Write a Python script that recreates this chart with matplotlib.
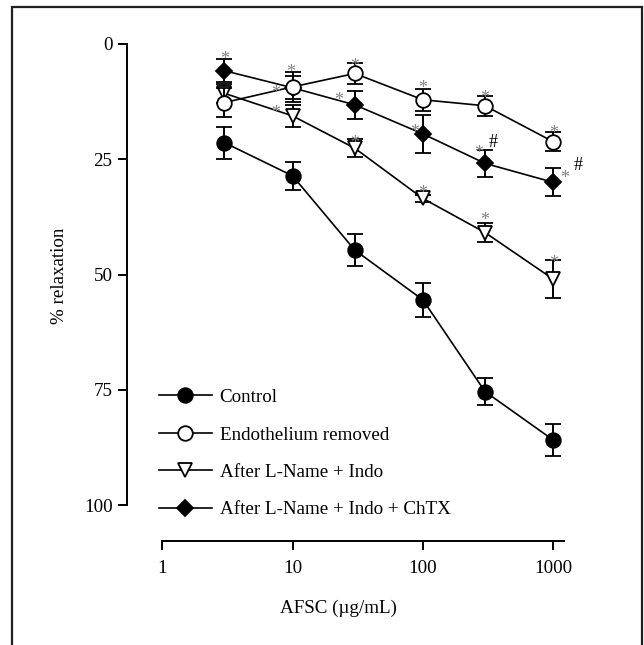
import matplotlib
matplotlib.use("Agg")
import matplotlib.pyplot as plt
from matplotlib.patches import Rectangle
from matplotlib.ticker import FixedLocator, NullLocator

plt.rcParams['font.family'] = ['Liberation Serif', 'DejaVu Serif']
plt.rcParams['font.size'] = 13.7

# concentration (µg/mL) and % relaxation (mean, SEM)
conc = [3, 10, 30, 100, 300, 1000]
control = [21.4, 28.6, 44.7, 55.5, 75.4, 85.9]
control_sem = [3.5, 3.0, 3.5, 3.7, 3.0, 3.4]
endo = [12.7, 9.3, 6.4, 12.1, 13.4, 21.2]
endo_sem = [3.2, 3.2, 2.3, 2.4, 2.2, 2.1]
lname = [10.7, 15.6, 22.6, 33.5, 40.9, 51.0]
lname_sem = [2.0, 2.4, 1.9, 0.8, 2.1, 4.2]
chtx = [5.8, 9.5, 13.2, 19.5, 25.9, 30.0]
chtx_sem = [2.5, 2.5, 3.1, 4.1, 2.9, 3.0]

labels = ["Control", "Endothelium removed", "After L-Name + Indo",
          "After L-Name + Indo + ChTX"]

# significance marks: (series, point index, symbol, dx px, dy px upward)
marks = [
    ("chtx", 0, "*", 0, 17), ("endo", 1, "*", -2, 20), ("chtx", 1, "*", -17, 0),
    ("lname", 1, "*", -17, 8), ("endo", 2, "*", 0, 13), ("chtx", 2, "*", -16, 10),
    ("lname", 2, "*", 0, 11), ("endo", 3, "*", 0, 17), ("chtx", 3, "*", -8, 7),
    ("lname", 3, "*", 0, 11), ("endo", 4, "*", 0, 13), ("chtx", 4, "*", -6, 16),
    ("chtx", 4, "#", 8, 21), ("lname", 4, "*", 0, 18), ("endo", 5, "*", 0, 14),
    ("chtx", 5, "*", 11, 10), ("chtx", 5, "#", 25, 17), ("lname", 5, "*", 0, 22),
]

fig = plt.figure(figsize=(6.44, 6.45), dpi=100)
ax = fig.add_axes([127 / 644, 1 - 541 / 645, 453 / 644, 506 / 645])

series = {
    "control": (control, control_sem, dict(marker="o", ms=10.5, mfc="black", mec="black"), 3),
    "endo": (endo, endo_sem, dict(marker="o", ms=10.5, mfc="white", mec="black"), 6),
    "lname": (lname, lname_sem, dict(marker="v", ms=10, mfc="white", mec="black"), 4),
    "chtx": (chtx, chtx_sem, dict(marker="D", ms=8, mfc="black", mec="black"), 5),
}

handles = []
for key, (vals, sem, style, z) in series.items():
    eb = ax.errorbar(conc, vals, yerr=sem, color="black", lw=1.2, elinewidth=1.4,
                     capsize=5.5, capthick=1.6, mew=1.3, zorder=z, **style)
    handles.append(eb[0])

for key, idx, sym, dx, dy in marks:
    vals = series[key][0]
    if sym == "*":
        color, dy = "#808080", dy - 6  # asterisk glyph sits high in its box
    else:
        color = "black"
    ax.annotate(sym, (conc[idx], vals[idx]), xytext=(dx, dy), textcoords="offset pixels",
                ha="center", va="center", color=color, fontsize=13, zorder=10)

ax.set_xscale("log")
ax.set_xlim(0.536, 1606)
ax.set_ylim(107.8, -1.95)
ax.spines["top"].set_visible(False)
ax.spines["right"].set_visible(False)
ax.spines["left"].set_bounds(0, 100)
ax.spines["bottom"].set_bounds(1, 1200)
for s in ("left", "bottom"):
    ax.spines[s].set_linewidth(1.4)

ax.xaxis.set_major_locator(FixedLocator([1, 10, 100, 1000]))
ax.xaxis.set_minor_locator(NullLocator())
ax.set_xticklabels(["1", "10", "100", "1000"])
ax.set_yticks([0, 25, 50, 75, 100])
ax.tick_params(axis="both", direction="out", length=6.5, width=1.4, labelsize=13.7, pad=4)
ax.tick_params(axis="x", pad=7.5)

ax.set_xlabel("AFSC (µg/mL)")
ax.xaxis.set_label_coords(0.4658, -0.115)
ax.set_ylabel("% relaxation")
ax.yaxis.set_label_coords(-0.13, 0.524)

leg = ax.legend(handles, labels, loc="upper left", bbox_to_anchor=(0.07, 0.301),
                frameon=False, handlelength=2.8, handletextpad=0.4, labelspacing=1.06,
                borderpad=0, borderaxespad=0)

fig.patches.append(Rectangle((12 / 644, -0.05), 630 / 644, 1.05 - 7 / 645,
                             transform=fig.transFigure, fill=False, lw=1.6,
                             edgecolor="#231f20"))

fig.savefig("out.png", dpi=100)
